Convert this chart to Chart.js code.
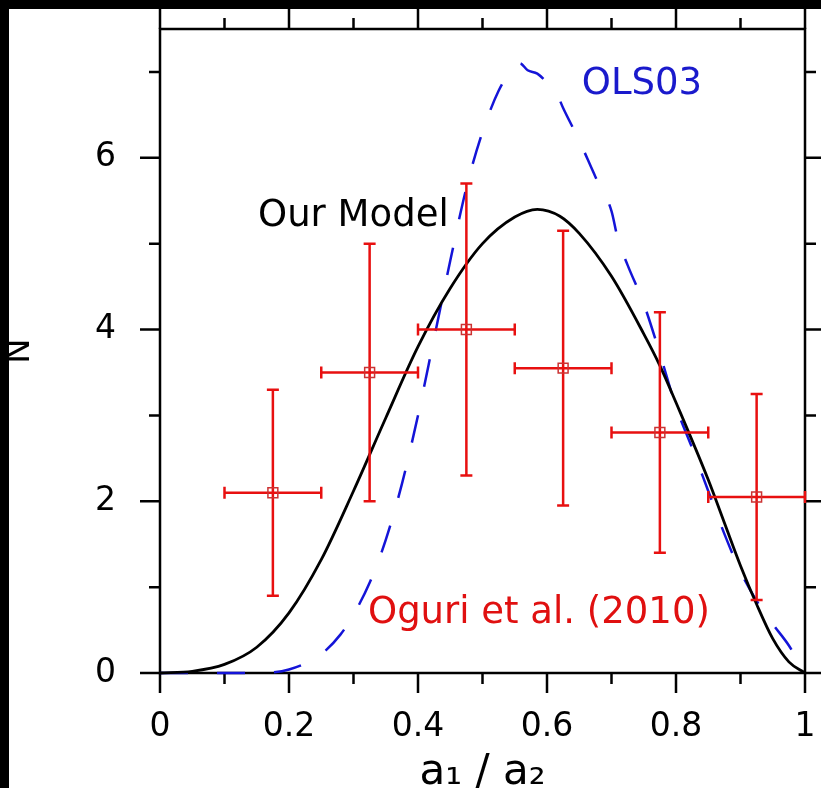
<!DOCTYPE html>
<html>
<head>
<meta charset="utf-8">
<script src="https://cdn.jsdelivr.net/npm/chart.js@4.4.1/dist/chart.umd.min.js"></script>
<style>
  html, body { margin: 0; padding: 0; background: #000; overflow: hidden; }
  #wrap { position: absolute; left: 0; top: 0; width: 821px; height: 800px; }
</style>
</head>
<body>
<div id="wrap"><canvas id="c" width="821" height="800"></canvas></div>
<script>
// ---------- data ----------
const modelX = [0, 0.05, 0.1, 0.15, 0.2, 0.25, 0.3, 0.35, 0.4, 0.45, 0.5, 0.55, 0.585, 0.62, 0.65, 0.7, 0.75, 0.775, 0.8, 0.85, 0.875, 0.9, 0.925, 0.95, 0.975, 1];
const modelY = [0, 0.02, 0.1, 0.3, 0.7, 1.32, 2.12, 2.97, 3.8, 4.48, 5.0, 5.31, 5.4, 5.32, 5.12, 4.62, 3.95, 3.58, 3.15, 2.25, 1.75, 1.25, 0.8, 0.4, 0.13, 0];

const olsX = [0, 0.05, 0.1, 0.15, 0.2, 0.25, 0.28, 0.3, 0.325, 0.35, 0.375, 0.4, 0.425, 0.45, 0.475, 0.5, 0.525, 0.545, 0.558, 0.57, 0.585, 0.6, 0.612, 0.625, 0.65, 0.675, 0.7, 0.71, 0.725, 0.75, 0.775, 0.8, 0.825, 0.85, 0.875, 0.9, 0.925, 0.95, 0.975, 1];
const olsY = [0, 0, 0, 0, 0.04, 0.22, 0.45, 0.68, 1.05, 1.55, 2.2, 3.0, 3.9, 4.8, 5.65, 6.3, 6.78, 7.02, 7.1, 7.02, 6.98, 6.88, 6.8, 6.58, 6.2, 5.78, 5.38, 5.05, 4.75, 4.3, 3.72, 3.1, 2.62, 2.12, 1.62, 1.18, 0.84, 0.57, 0.32, 0];

const oguriX     = [0.175, 0.325, 0.475, 0.625, 0.775, 0.925];
const oguriY     = [2.1, 3.5, 4.0, 3.55, 2.8, 2.05];
const oguriXLow  = [0.1, 0.25, 0.4, 0.55, 0.7, 0.85];
const oguriXHigh = [0.25, 0.4, 0.55, 0.7, 0.85, 1.0];
const oguriYLow  = [0.9, 2.0, 2.3, 1.95, 1.4, 0.85];
const oguriYHigh = [3.3, 5.0, 5.7, 5.15, 4.2, 3.25];

const xTickValues = [0, 0.2, 0.4, 0.6, 0.8, 1];
const xTickLabels = ['0', '0.2', '0.4', '0.6', '0.8', '1'];
const xMinorTicks = [0.1, 0.3, 0.5, 0.7, 0.9];
const yTickValues = [0, 2, 4, 6];
const yTickLabels = ['0', '2', '4', '6'];
const yMinorTicks = [1, 3, 5, 7];

const xTitle = 'a\u2081 / a\u2082';
const yTitle = 'N';

// text labels placed in data coordinates
const notes = [
  { text: 'OLS03', x: 0.654, y: 6.74, color: '#1a1acc' },
  { text: 'Our Model', x: 0.152, y: 5.21, color: '#000000' },
  { text: 'Oguri et al. (2010)', x: 0.3225, y: 0.58, color: '#e01010' }
];

// ---------- helpers ----------
const toPts = (xs, ys) => xs.map((x, i) => ({ x: x, y: ys[i] }));
const labelFor = (vals, labels, v) => {
  const i = vals.findIndex(t => Math.abs(t - v) < 1e-6);
  return i >= 0 ? labels[i] : '';
};
const fixBox = (dim, size) => s => {
  s[dim] = size;
  s.paddingTop = 0; s.paddingBottom = 0; s.paddingLeft = 0; s.paddingRight = 0;
};

const BLACK_EDGE = 9;
const TICK_MAJOR = 20, TICK_MINOR = 11;

const decor = {
  id: 'decor',
  beforeDraw(chart) {
    const ctx = chart.ctx;
    ctx.save();
    ctx.fillStyle = '#000';
    ctx.fillRect(0, 0, chart.width, chart.height);
    ctx.fillStyle = '#fff';
    ctx.fillRect(BLACK_EDGE, BLACK_EDGE, chart.width - BLACK_EDGE, chart.height - BLACK_EDGE);
    ctx.restore();
  },
  beforeDatasetsDraw(chart) {
    const ctx = chart.ctx, a = chart.chartArea, xs = chart.scales.x, ys = chart.scales.y;
    ctx.save();
    ctx.strokeStyle = '#000';
    ctx.lineWidth = 2.5;
    ctx.strokeRect(a.left, a.top, a.right - a.left, a.bottom - a.top);
    ctx.beginPath();
    const xt = (v, len) => {
      const p = xs.getPixelForValue(v);
      ctx.moveTo(p, a.bottom); ctx.lineTo(p, a.bottom + len);
      ctx.moveTo(p, a.top); ctx.lineTo(p, a.top - len);
    };
    const yt = (v, len) => {
      const p = ys.getPixelForValue(v);
      ctx.moveTo(a.left, p); ctx.lineTo(a.left - len, p);
      ctx.moveTo(a.right, p); ctx.lineTo(a.right + len, p);
    };
    xTickValues.forEach(v => xt(v, TICK_MAJOR));
    xMinorTicks.forEach(v => xt(v, TICK_MINOR));
    yTickValues.forEach(v => yt(v, TICK_MAJOR));
    yMinorTicks.forEach(v => yt(v, TICK_MINOR));
    ctx.stroke();
    ctx.restore();
  },
  beforeDatasetDraw(chart, args) {
    if (args.index !== 0) return;
    const ctx = chart.ctx, xs = chart.scales.x, ys = chart.scales.y;
    const cap = 6;
    ctx.save();
    ctx.strokeStyle = '#e81010';
    ctx.lineWidth = 2.5;
    for (let i = 0; i < oguriX.length; i++) {
      const px = xs.getPixelForValue(oguriX[i]);
      const py = ys.getPixelForValue(oguriY[i]);
      const x0 = xs.getPixelForValue(oguriXLow[i]);
      const x1 = xs.getPixelForValue(oguriXHigh[i]);
      const y0 = ys.getPixelForValue(oguriYLow[i]);
      const y1 = ys.getPixelForValue(oguriYHigh[i]);
      ctx.beginPath();
      ctx.moveTo(x0, py); ctx.lineTo(x1, py);
      ctx.moveTo(x0, py - cap); ctx.lineTo(x0, py + cap);
      ctx.moveTo(x1, py - cap); ctx.lineTo(x1, py + cap);
      ctx.moveTo(px, y0); ctx.lineTo(px, y1);
      ctx.moveTo(px - cap, y0); ctx.lineTo(px + cap, y0);
      ctx.moveTo(px - cap, y1); ctx.lineTo(px + cap, y1);
      ctx.stroke();
    }
    ctx.restore();
  },
  afterDraw(chart) {
    const ctx = chart.ctx, xs = chart.scales.x, ys = chart.scales.y;
    ctx.save();
    ctx.font = '37px "DejaVu Sans"';
    ctx.textBaseline = 'alphabetic';
    ctx.textAlign = 'left';
    notes.forEach(n => {
      ctx.fillStyle = n.color;
      ctx.fillText(n.text, xs.getPixelForValue(n.x), ys.getPixelForValue(n.y));
    });
    ctx.restore();
  }
};

const tickFont = { family: '"DejaVu Sans", sans-serif', size: 33 };
const looseClip = { left: 6, top: 6, right: 6, bottom: 6 };

new Chart(document.getElementById('c'), {
  type: 'scatter',
  data: {
    datasets: [
      {
        label: 'Oguri et al. (2010)',
        data: toPts(oguriX, oguriY),
        pointStyle: 'rect',
        pointRadius: 7,
        borderColor: '#cc3333',
        backgroundColor: 'rgba(0,0,0,0)',
        borderWidth: 1.5,
        showLine: false,
        clip: looseClip
      },
      {
        label: 'Our Model',
        type: 'line',
        data: toPts(modelX, modelY),
        borderColor: '#000000',
        borderWidth: 2.8,
        pointRadius: 0,
        fill: false,
        cubicInterpolationMode: 'monotone',
        clip: looseClip
      },
      {
        label: 'OLS03',
        type: 'line',
        data: toPts(olsX, olsY),
        borderColor: '#1414d8',
        borderWidth: 2.5,
        borderDash: [28, 29],
        pointRadius: 0,
        fill: false,
        cubicInterpolationMode: 'monotone',
        clip: looseClip
      }
    ]
  },
  options: {
    responsive: false,
    animation: false,
    devicePixelRatio: 1,
    layout: { padding: 0 },
    plugins: { legend: { display: false }, tooltip: { enabled: false } },
    scales: {
      x: {
        type: 'linear', position: 'bottom', min: 0, max: 1,
        grid: { display: false }, border: { display: false },
        ticks: {
          stepSize: 0.2, autoSkip: false, maxRotation: 0, padding: 27,
          color: '#000', font: tickFont,
          callback: v => labelFor(xTickValues, xTickLabels, v)
        },
        title: { display: true, text: xTitle, color: '#000',
                 font: { family: '"DejaVu Sans", sans-serif', size: 42 },
                 padding: { top: 0, bottom: 2 } },
        afterFit: fixBox('height', 127)
      },
      x2: {
        type: 'linear', axis: 'x', position: 'top', min: 0, max: 1,
        grid: { display: false }, border: { display: false },
        ticks: { display: false },
        afterFit: fixBox('height', 29)
      },
      y: {
        type: 'linear', position: 'left', min: 0, max: 7.5,
        grid: { display: false }, border: { display: false },
        ticks: {
          stepSize: 2, autoSkip: false, padding: 36,
          color: '#000', font: tickFont,
          callback: v => labelFor(yTickValues, yTickLabels, v)
        },
        title: { display: true, text: yTitle, color: '#000',
                 font: { family: '"DejaVu Sans", sans-serif', size: 34 },
                 padding: { top: 0, bottom: 0 } },
        afterFit: fixBox('width', 160)
      },
      y2: {
        type: 'linear', axis: 'y', position: 'right', min: 0, max: 7.5,
        grid: { display: false }, border: { display: false },
        ticks: { display: false },
        afterFit: fixBox('width', 16)
      }
    }
  },
  plugins: [decor]
});
</script>
</body>
</html>
